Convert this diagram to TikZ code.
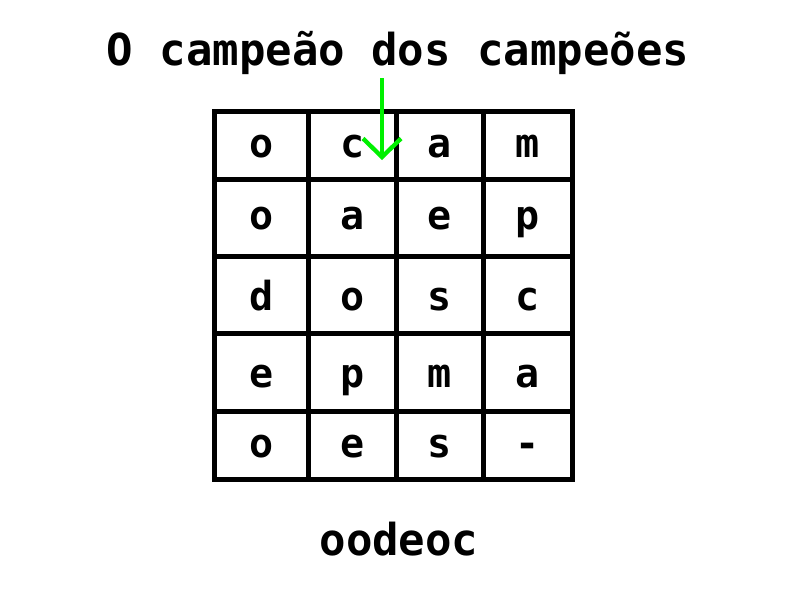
\documentclass[tikz,border=0pt]{standalone}
\usepackage{fontspec}
\newfontfamily\monofont{DejaVu Sans Mono}
\definecolor{arrowgreen}{RGB}{0,240,0}
\begin{document}
\begin{tikzpicture}[x=1pt,y=-1pt,
  gridline/.style={line width=5pt,black},
  letter/.style={inner sep=0pt,anchor=base,font=\monofont\bfseries\fontsize{40}{42}\selectfont},
  greenarrow/.style={line width=4.3pt,arrowgreen}]
\useasboundingbox (0,0) rectangle (800,600);
% title
\node[inner sep=0pt,anchor=base,font=\monofont\bfseries\fontsize{44}{46}\selectfont] (title) at (398,65) {O campeão dos campeões};
% grid
\draw[gridline] (214.5,111) rectangle (572,479.5);
\foreach \x in {308.5,396.5,483.5} \draw[gridline] (\x,111) -- (\x,479.5);
\foreach \y in {179.5,256.7,333.3,411.7} \draw[gridline] (214.5,\y) -- (572,\y);
% letters
\node[letter] (r1c1) at (261.5,157) {o};
\node[letter] (r1c2) at (352.5,157) {c};
\node[letter] (r1c3) at (440,157) {a};
\node[letter] (r1c4) at (527.75,157) {m};
\node[letter] (r2c1) at (261.5,229) {o};
\node[letter] (r2c2) at (352.5,229) {a};
\node[letter] (r2c3) at (440,229) {e};
\node[letter] (r2c4) at (527.75,229) {p};
\node[letter] (r3c1) at (261.5,310) {d};
\node[letter] (r3c2) at (352.5,310) {o};
\node[letter] (r3c3) at (440,310) {s};
\node[letter] (r3c4) at (527.75,310) {c};
\node[letter] (r4c1) at (261.5,387) {e};
\node[letter] (r4c2) at (352.5,387) {p};
\node[letter] (r4c3) at (440,387) {m};
\node[letter] (r4c4) at (527.75,387) {a};
\node[letter] (r5c1) at (261.5,457) {o};
\node[letter] (r5c2) at (352.5,457) {e};
\node[letter] (r5c3) at (440,457) {s};
\node[letter] (r5c4) at (527.75,457) {-};
% result
\node[inner sep=0pt,anchor=base,font=\monofont\bfseries\fontsize{44}{46}\selectfont] (result) at (399,555) {oodeoc};
% arrow
\coordinate (astart) at (382,78);
\coordinate (aend) at (382,157);
\draw[greenarrow] (astart) -- (aend);
\draw[greenarrow,line join=miter] (aend) ++(-19,-18.5) -- (aend) -- ++(19,-18.5);
\end{tikzpicture}
\end{document}
